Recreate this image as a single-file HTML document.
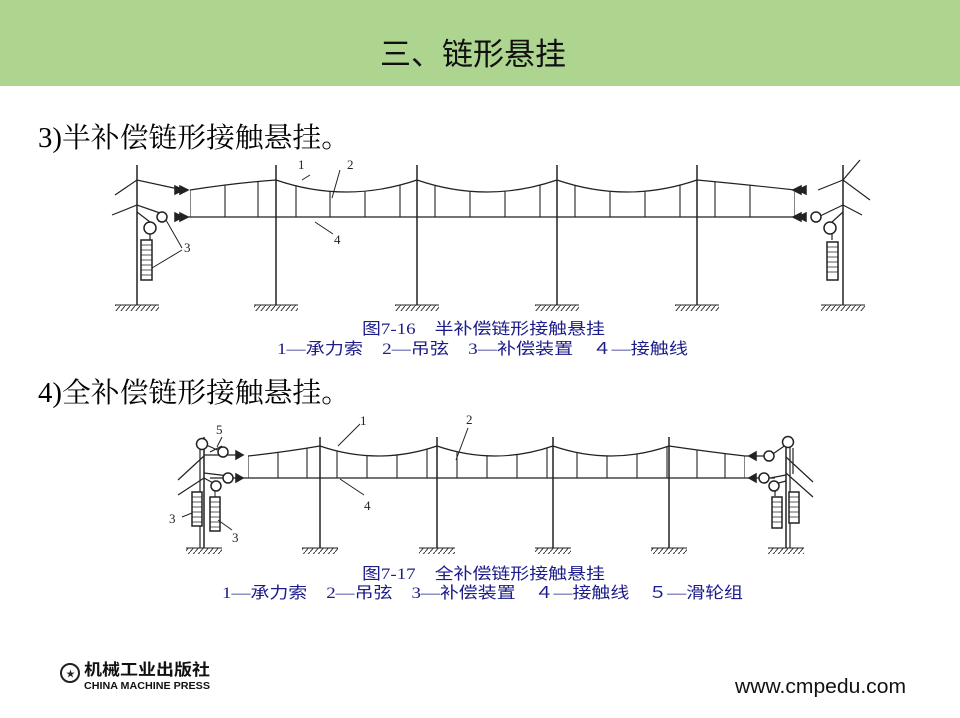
<!DOCTYPE html>
<html><head><meta charset="utf-8"><style>
body{margin:0;width:960px;height:718px;background:#fff;position:relative;overflow:hidden;font-family:"Liberation Serif","Noto Serif CJK SC",serif}
.hd{position:absolute;left:0;top:0;width:960px;height:86px;background:#add590}
.t{position:absolute;white-space:nowrap}
</style></head><body>
<div class="hd"></div>
<div class="t" style="left:380px;top:29px;font-size:31px;font-family:'Liberation Sans','Noto Sans CJK SC',sans-serif;color:#111">三、链形悬挂</div>
<svg width="960" height="718" style="position:absolute;left:0;top:0">
<g fill="#000" font-family="Liberation Serif, Noto Serif CJK SC, serif" font-size="28">
<text x="38" y="147" textLength="312" lengthAdjust="spacingAndGlyphs">3)半补偿链形接触悬挂。</text>
<text x="38" y="402" textLength="312" lengthAdjust="spacingAndGlyphs">4)全补偿链形接触悬挂。</text>
</g>
<g fill="#1c1c8a" font-family="Liberation Serif, Noto Sans CJK SC, sans-serif" font-size="16">
<text x="362" y="334" textLength="243" lengthAdjust="spacingAndGlyphs">图7-16　半补偿链形接触悬挂</text>
<text x="277" y="354" textLength="411" lengthAdjust="spacingAndGlyphs">1—承力索　2—吊弦　3—补偿装置　４—接触线</text>
<text x="362" y="579" textLength="243" lengthAdjust="spacingAndGlyphs">图7-17　全补偿链形接触悬挂</text>
<text x="222" y="598" textLength="521" lengthAdjust="spacingAndGlyphs">1—承力索　2—吊弦　3—补偿装置　４—接触线　５—滑轮组</text>
</g>
<g fill="#111" font-family="Liberation Sans, Noto Sans CJK SC, sans-serif" font-weight="bold">
<text x="84" y="675" font-size="16" textLength="126" lengthAdjust="spacingAndGlyphs">机械工业出版社</text>
<text x="84" y="689" font-size="10" textLength="126" lengthAdjust="spacingAndGlyphs">CHINA MACHINE PRESS</text>
</g>
<text x="735" y="693" font-size="20" fill="#111" font-family="Liberation Sans, sans-serif" textLength="171" lengthAdjust="spacingAndGlyphs">www.cmpedu.com</text>
</svg>
<svg width="960" height="718" style="position:absolute;left:0;top:0" fill="none" stroke="#222" stroke-width="1.5">
<defs>
<pattern id="h" width="5" height="6" patternUnits="userSpaceOnUse"><path d="M5 0L0 6" stroke="#333" stroke-width="1"/></pattern>
<clipPath id="c1"><path d="M190 190 Q235 183 276 180 Q346 204 417 180 Q487 204 557 180 Q627 204 697 180 Q750 185 795 190 L795 217 L190 217Z"/></clipPath>
<clipPath id="c2"><path d="M248 456 Q285 452 320 446 Q378 466 437 446 Q495 466 553 446 Q611 466 669 446 Q710 452 745 456 L745 478 L248 478Z"/></clipPath>
</defs>
<circle cx="70" cy="673" r="9" stroke="#222" stroke-width="2"/><text x="66" y="677" font-size="9" fill="#222" stroke="none">★</text>
<g>
<path d="M137 165V305M276 165V305M417 165V305M557 165V305M697 165V305M843 165V305"/>
<g stroke="none" fill="url(#h)"><rect x="115" y="305" width="44" height="6"/><rect x="254" y="305" width="44" height="6"/><rect x="395" y="305" width="44" height="6"/><rect x="535" y="305" width="44" height="6"/><rect x="675" y="305" width="44" height="6"/><rect x="821" y="305" width="44" height="6"/></g>
<path d="M115 305h44M254 305h44M395 305h44M535 305h44M675 305h44M821 305h44" stroke-width="1"/>
<path d="M190 190 Q235 183 276 180 Q346 204 417 180 Q487 204 557 180 Q627 204 697 180 Q750 185 795 190" stroke-width="1.2"/>
<path d="M182 217H800" stroke-width="1.2"/>
<g clip-path="url(#c1)" stroke-width="1.1"><path d="M190 170V217M225 170V217M258 170V217M296 170V217M330 170V217M365 170V217M400 170V217M435 170V217M470 170V217M505 170V217M540 170V217M575 170V217M610 170V217M645 170V217M680 170V217M715 170V217M750 170V217M795 170V217"/></g>
<path d="M115 195L137 180L183 190M112 215L137 205L160 213M137 212L150 222M150 234V240" stroke-width="1.2"/>
<path d="M175 186l8 4l-8 4zM180 186l8 4l-8 4zM175 213l8 4l-8 4zM180 213l8 4l-8 4z" fill="#222"/>
<circle cx="162" cy="217" r="5" fill="#fff"/><circle cx="150" cy="228" r="6" fill="#fff"/>
<rect x="141" y="240" width="11" height="40" fill="#fff"/>
<path d="M141 245h11M141 250h11M141 255h11M141 260h11M141 265h11M141 270h11M141 275h11" stroke-width="0.8"/>
<path d="M166 220L182 248M152 268L182 250M310 175l-8 5M340 170l-8 28M315 222l18 12" stroke-width="1"/>
<path d="M818 190L843 180L870 200M843 180L860 160M818 217L843 205L862 215M843 212L832 222M832 234V240" stroke-width="1.2"/>
<path d="M806 186l-8 4l8 4zM801 186l-8 4l8 4zM806 213l-8 4l8 4zM801 213l-8 4l8 4z" fill="#222"/>
<circle cx="816" cy="217" r="5" fill="#fff"/><circle cx="830" cy="228" r="6" fill="#fff"/>
<rect x="827" y="242" width="11" height="38" fill="#fff"/>
<path d="M827 247h11M827 252h11M827 257h11M827 262h11M827 267h11M827 272h11" stroke-width="0.8"/>
</g>
<g fill="#222" stroke="none" font-family="Liberation Serif" font-size="13"><text x="298" y="169">1</text><text x="347" y="169">2</text><text x="334" y="244">4</text><text x="184" y="252">3</text></g>
<g>
<path d="M204 437V548M320 437V548M437 437V548M553 437V548M669 437V548M786 437V548"/>
<g stroke="none" fill="url(#h)"><rect x="186" y="548" width="36" height="6"/><rect x="302" y="548" width="36" height="6"/><rect x="419" y="548" width="36" height="6"/><rect x="535" y="548" width="36" height="6"/><rect x="651" y="548" width="36" height="6"/><rect x="768" y="548" width="36" height="6"/></g>
<path d="M186 548h36M302 548h36M419 548h36M535 548h36M651 548h36M768 548h36" stroke-width="1"/>
<path d="M248 456 Q285 452 320 446 Q378 466 437 446 Q495 466 553 446 Q611 466 669 446 Q710 452 745 456" stroke-width="1.2"/>
<path d="M240 478H752" stroke-width="1.2"/>
<g clip-path="url(#c2)" stroke-width="1.1"><path d="M248 440V478M278 440V478M307 440V478M337 440V478M367 440V478M397 440V478M427 440V478M457 440V478M487 440V478M517 440V478M547 440V478M577 440V478M607 440V478M637 440V478M667 440V478M697 440V478M725 440V478M745 440V478"/></g>
<path d="M200 444V548M204 444L222 452M204 455H238M222 455H238M204 456L178 480M204 478L178 495M204 478L215 484M210 452L222 446M204 473L229 476M210 478H238" stroke-width="1.2"/>
<circle cx="202" cy="444" r="5.5" fill="#fff"/><circle cx="223" cy="452" r="5" fill="#fff"/><circle cx="228" cy="478" r="5" fill="#fff"/><circle cx="216" cy="486" r="5" fill="#fff"/>
<path d="M236 451l7 4l-7 4zM236 474l7 4l-7 4z" fill="#222"/>
<rect x="192" y="492" width="10" height="34" fill="#fff"/><rect x="210" y="497" width="10" height="34" fill="#fff"/>
<path d="M192 497h10M192 502h10M192 507h10M192 512h10M192 517h10M192 522h10M210 502h10M210 507h10M210 512h10M210 517h10M210 522h10M210 527h10" stroke-width="0.8"/>
<path d="M215 491V497M182 517l10-4M218 520l14 10M217 447l5-10M338 446l22-22M456 460l12-32M340 479l24 16" stroke-width="1"/>
<path d="M790 442V548M786 457L813 482M786 473L813 497M786 475L770 478M745 456H770M770 456L790 442M775 478H752M786 481L775 484M775 490V496M793 448V474" stroke-width="1.2"/>
<circle cx="788" cy="442" r="5.5" fill="#fff"/><circle cx="769" cy="456" r="5" fill="#fff"/><circle cx="764" cy="478" r="5" fill="#fff"/><circle cx="774" cy="486" r="5" fill="#fff"/>
<path d="M756 452l-7 4l7 4zM756 474l-7 4l7 4z" fill="#222"/>
<rect x="772" y="497" width="10" height="31" fill="#fff"/><rect x="789" y="492" width="10" height="31" fill="#fff"/>
<path d="M772 502h10M772 507h10M772 512h10M772 517h10M772 522h10M789 497h10M789 502h10M789 507h10M789 512h10M789 517h10" stroke-width="0.8"/>
</g>
<g fill="#222" stroke="none" font-family="Liberation Serif" font-size="13"><text x="216" y="434">5</text><text x="360" y="425">1</text><text x="466" y="424">2</text><text x="364" y="510">4</text><text x="169" y="523">3</text><text x="232" y="542">3</text></g>
</svg>
</body></html>
